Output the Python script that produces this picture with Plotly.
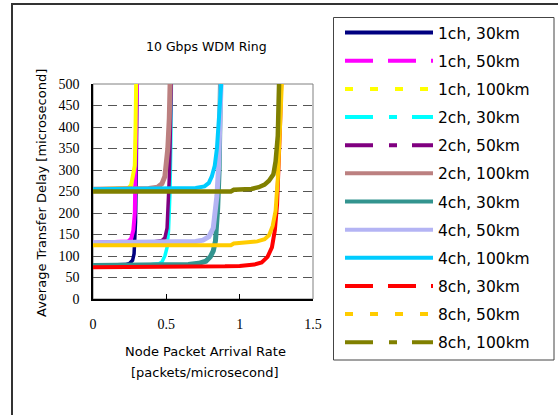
import plotly.graph_objects as go

# ---------------- data ----------------
series_names = ["1ch, 30km", "1ch, 50km", "1ch, 100km",
                "2ch, 30km", "2ch, 50km", "2ch, 100km",
                "4ch, 30km", "4ch, 50km", "4ch, 100km",
                "8ch, 30km", "8ch, 50km", "8ch, 100km"]

x_1ch_30 = [0, 0.10, 0.17, 0.22, 0.25, 0.27, 0.28, 0.285, 0.29, 0.295, 0.30, 0.302]
y_1ch_30 = [78, 78, 79, 80, 83, 90, 105, 130, 180, 300, 480, 600]

x_1ch_50 = [0, 0.20, 0.24, 0.26, 0.275, 0.285, 0.29, 0.295, 0.30]
y_1ch_50 = [131, 132, 134, 140, 160, 200, 300, 400, 520]

x_1ch_100 = [0, 0.20, 0.24, 0.26, 0.275, 0.285, 0.29, 0.295]
y_1ch_100 = [255, 256, 258, 265, 290, 310, 400, 520]

x_2ch_30 = [0, 0.30, 0.40, 0.45, 0.47, 0.49, 0.505, 0.515, 0.525, 0.53, 0.535]
y_2ch_30 = [78, 79, 80, 82, 86, 100, 120, 160, 250, 350, 520]

x_2ch_50 = [0, 0.35, 0.42, 0.47, 0.49, 0.505, 0.515, 0.52, 0.525, 0.53, 0.535]
y_2ch_50 = [131, 132, 133, 136, 142, 165, 220, 280, 350, 450, 520]

x_2ch_100 = [0, 0.30, 0.38, 0.44, 0.47, 0.49, 0.50, 0.51, 0.52, 0.527]
y_2ch_100 = [255, 256, 257, 260, 268, 285, 310, 350, 420, 520]

x_4ch_30 = [0, 0.50, 0.65, 0.72, 0.77, 0.80, 0.82, 0.835, 0.845, 0.85, 0.86, 0.87]
y_4ch_30 = [78, 79, 80, 83, 88, 98, 112, 135, 170, 210, 300, 520]

x_4ch_50 = [0, 0.60, 0.70, 0.75, 0.79, 0.82, 0.835, 0.845, 0.855, 0.865, 0.875]
y_4ch_50 = [131, 132, 134, 137, 145, 165, 200, 240, 300, 400, 520]

x_4ch_100 = [0, 0.60, 0.70, 0.76, 0.79, 0.81, 0.83, 0.845, 0.86, 0.87, 0.878]
y_4ch_100 = [255, 256, 258, 262, 270, 285, 310, 350, 410, 460, 520]

x_8ch_30 = [0, 0.80, 0.90, 1.00, 1.10, 1.15, 1.19, 1.22, 1.24, 1.255, 1.265, 1.275, 1.285]
y_8ch_30 = [74, 74, 76, 77, 80, 85, 98, 120, 160, 220, 300, 400, 520]

x_8ch_50 = [0, 0.94, 0.96, 1.05, 1.12, 1.17, 1.20, 1.225, 1.245, 1.26, 1.27, 1.28, 1.29]
y_8ch_50 = [125, 125, 129, 131, 134, 139, 148, 170, 205, 280, 360, 450, 520]

x_8ch_100 = [0, 0.94, 0.96, 1.08, 1.13, 1.17, 1.20, 1.23, 1.245, 1.26, 1.265, 1.27]
y_8ch_100 = [250, 250, 254, 256, 260, 266, 275, 290, 320, 380, 450, 520]

series_x = [x_1ch_30, x_1ch_50, x_1ch_100, x_2ch_30, x_2ch_50, x_2ch_100,
            x_4ch_30, x_4ch_50, x_4ch_100, x_8ch_30, x_8ch_50, x_8ch_100]
series_y = [y_1ch_30, y_1ch_50, y_1ch_100, y_2ch_30, y_2ch_50, y_2ch_100,
            y_4ch_30, y_4ch_50, y_4ch_100, y_8ch_30, y_8ch_50, y_8ch_100]

x_tick_vals = [0, 0.5, 1, 1.5]
x_tick_text = ["0", "0.5", "1", "1.5"]
y_tick_vals = [0, 50, 100, 150, 200, 250, 300, 350, 400, 450, 500]

# ---------------- styles ----------------
colors = ["#000080", "#FF00FF", "#FFFF00", "#00FFFF", "#800080", "#BC8080",
          "#33948F", "#B4B4F4", "#00CCFF", "#FF0000", "#FFCC00", "#808000"]
widths = [3.5, 4, 4, 3.5, 3.5, 5, 5, 5, 4, 4, 4, 4.5]
legend_dash = ["solid", "28px,15px", "8px,17px", "28px,16px,8px,15px",
               "28px,16px,8px,15px", "solid", "solid", "solid", "solid",
               "28px,15px", "8px,17px", "28px,16px,8px,15px"]

fig = go.Figure()

for i, name in enumerate(series_names):
    fig.add_trace(go.Scatter(
        x=series_x[i], y=series_y[i], mode="lines", name=name,
        line=dict(color=colors[i], width=widths[i]),
        showlegend=False, hoverinfo="x+y+name"))

for i, name in enumerate(series_names):
    fig.add_trace(go.Scatter(
        x=[None], y=[None], mode="lines", name=name, legendgroup=name,
        line=dict(color=colors[i], width=4, dash=legend_dash[i]),
        showlegend=True))

L, R, T, B = 93, 245, 84, 116
W, H = 558, 415
pw, ph = W - L - R, H - T - B

def px_x(p):
    return (p - L) / pw

def px_y(p):
    return (H - B - p) / ph

ann_font = dict(family="DejaVu Sans", size=13, color="black")
serif = "Liberation Serif, Times New Roman, serif"

fig.update_layout(
    width=W, height=H,
    margin=dict(l=L, r=R, t=T, b=B, pad=0, autoexpand=False),
    paper_bgcolor="white", plot_bgcolor="white",
    showlegend=True,
    legend=dict(
        x=px_x(340), y=px_y(16), xanchor="left", yanchor="top",
        borderwidth=0, bgcolor="rgba(0,0,0,0)",
        font=dict(family="DejaVu Sans", size=15.5, color="black"),
        itemwidth=88, traceorder="grouped", tracegroupgap=5,
        maxheight=400,
        itemclick=False, itemdoubleclick=False),
    xaxis=dict(
        range=[0, 1.5], tickvals=x_tick_vals, ticktext=x_tick_text,
        showgrid=False, zeroline=False,
        showline=True, linecolor="black", linewidth=1.5,
        ticks="inside", ticklen=5, tickcolor="black",
        ticklabelstandoff=11,
        tickfont=dict(family=serif, size=14, color="black")),
    yaxis=dict(
        range=[0, 500], tickvals=y_tick_vals,
        showgrid=True, gridcolor="#555555", gridwidth=1, griddash="9px,6px",
        zeroline=False,
        showline=True, linecolor="black", linewidth=1.5,
        ticks="", ticklabelstandoff=9,
        tickfont=dict(family=serif, size=14, color="black")),
    shapes=[
        dict(type="rect", xref="paper", yref="paper", x0=0, x1=1, y0=0, y1=1,
             line=dict(color="#808080", width=1), layer="below"),
        dict(type="rect", xref="paper", yref="paper",
             x0=px_x(12), x1=px_x(580), y0=px_y(440), y1=px_y(4),
             line=dict(color="#333333", width=2), layer="below"),
        dict(type="rect", xref="paper", yref="paper",
             x0=px_x(333.5), x1=px_x(554), y0=px_y(360), y1=px_y(17.5),
             line=dict(color="#444444", width=1), layer="below"),
    ],
    annotations=[
        dict(text="10 Gbps WDM Ring", xref="paper", yref="paper",
             x=px_x(206), y=px_y(47), xanchor="center", yanchor="middle",
             showarrow=False,
             font=dict(family="DejaVu Sans", size=12.5, color="black")),
        dict(text="Average Transfer Delay [microsecond]", xref="paper", yref="paper",
             x=px_x(41), y=px_y(193), xanchor="center", yanchor="middle",
             showarrow=False, textangle=-90, font=ann_font),
        dict(text="Node Packet Arrival Rate", xref="paper", yref="paper",
             x=px_x(205), y=px_y(351), xanchor="center", yanchor="middle",
             showarrow=False, font=ann_font),
        dict(text="[packets/microsecond]", xref="paper", yref="paper",
             x=px_x(205), y=px_y(372), xanchor="center", yanchor="middle",
             showarrow=False, font=ann_font),
    ],
)

fig.write_html("out.html", config={"displayModeBar": False},
               post_script="document.body.style.margin='0px';")
